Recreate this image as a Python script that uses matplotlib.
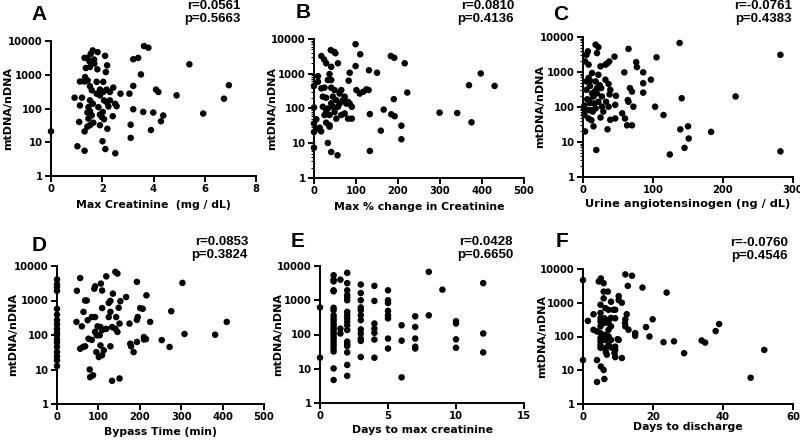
import matplotlib
matplotlib.use('Agg')
import matplotlib.pyplot as plt
from matplotlib.ticker import LogLocator, FixedLocator, NullFormatter

# ---- data ----
a_x = [0, 1.03, 1.31, 1.31, 1.1, 1.13, 0.92, 1.21, 1.13, 1.31, 1.33, 1.36, 1.42, 1.31, 1.55, 1.63, 1.82,
       1.5, 1.69, 1.52, 1.81, 1.43, 1.52, 1.59, 1.78, 1.91, 2.04, 2.17, 2.3, 2.43, 2.04, 1.78, 1.46, 1.52,
       1.42, 1.52, 1.59, 1.46, 1.52, 1.42, 1.65, 1.63, 1.85, 1.91, 1.98, 2.02, 2.07, 1.91, 2.07, 2.17, 2.24,
       2.3, 2.5, 2.56, 2.41, 2.2, 2.01, 2.12, 2.51, 2.14, 2.19, 2.11, 1.68, 1.91, 2.71, 3.06, 3.21, 3.4,
       3.63, 3.8, 3.51, 3.21, 3.21, 3.11, 3.11, 3.6, 3.99, 4.38, 4.29, 3.9, 4.1, 4.19, 4.9, 5.4, 5.94,
       6.75, 6.94]
a_y = [21, 7.6, 5.6, 21, 40, 123, 209, 209, 630, 630, 850, 1580, 3160, 3160, 4170, 5250, 4680,
       2510, 2140, 1700, 1450, 676, 457, 347, 617, 363, 617, 363, 309, 417, 309, 275, 110, 174,
       76, 83, 63, 50, 32, 29, 38, 138, 110, 66, 56, 79, 48, 32, 174, 155, 115,
       174, 138, 117, 59, 25, 10.7, 6.3, 4.7, 1200, 1900, 3630, 2820, 245, 275, 275, 2880, 3160,
       7080, 6310, 1020, 468, 95, 33, 13.5, 79, 76, 62, 42, 23, 363, 309, 245, 2040, 71,
       195, 490]

b_x = [0, 0, 0, 0, 0, 5.5, 5.5, 9.5, 9.5, 13.5, 17, 17.5, 24, 29, 25, 17.5, 21, 29, 21, 33, 25, 29, 37,
       29, 37, 33, 41, 56, 40, 48, 51, 41, 41, 33, 37, 41, 45, 49, 53, 45, 49, 53, 37, 57, 61, 65, 61,
       69, 73, 65, 73, 77, 81, 85, 90, 90, 81, 57, 41, 82.5, 85, 99, 99, 110, 101, 109, 117, 125, 130,
       131, 150, 133, 133, 166, 159, 183, 191, 184, 192, 190, 216, 222, 208, 208, 299, 341, 369, 375,
       397, 430]
b_y = [7.4, 107, 447, 37, 21, 49, 26, 851, 589, 28, 22, 3240, 2570, 2000, 398, 380, 219, 204, 112, 100,
       65, 39, 33, 89, 65, 10.2, 5.6, 4.5, 4790, 4270, 3890, 1580, 661, 661, 977, 398, 219, 339, 174,
       112, 79, 51, 30, 2000, 269, 339, 138, 174, 219, 65, 72, 138, 155, 138, 112, 51, 51, 112, 141,
       631, 1070, 7080, 1660, 3630, 339, 269, 302, 355, 339, 1260, 1070, 69, 6.0, 93, 23, 3240, 2880,
       68, 60, 186, 2000, 288, 32, 13, 76, 74, 468, 40, 1020, 447]

c_x = [2, 2, 3, 3, 5, 7, 8, 5, 6, 8, 8, 10, 10, 13, 13, 10, 15, 15, 18, 18, 14, 18, 22, 20, 22, 25, 26,
       27, 20, 22, 27, 29, 25, 19, 32, 35, 37.5, 32, 36.5, 39, 38, 33, 36.5, 39, 35, 45, 47, 46, 46, 59,
       65, 56, 60, 63, 64, 65, 67, 70, 72, 70, 76, 77, 86, 86, 86, 97, 103, 105, 115, 124, 138, 141,
       139, 145, 150, 151, 183, 218, 282, 282, 2, 9, 13, 16, 20, 8, 5, 12, 17, 24]
c_y = [110, 59, 20, 2000, 3090, 3890, 1620, 309, 166, 81, 47, 562, 398, 933, 245, 129, 200, 28, 537, 91,
       74, 6030, 5130, 3470, 832, 1450, 347, 200, 245, 141, 102, 74, 50, 5.9, 1620, 1780, 2000, 603,
       457, 309, 229, 141, 102, 43, 23, 2750, 209, 115, 47, 977, 4570, 66, 47, 30, 158, 141, 347, 275,
       102, 30, 1910, 1380, 977, 479, 257, 603, 102, 2630, 59, 4.4, 6760, 178, 23, 6.8, 28, 12.6, 19.5,
       200, 3090, 5.4, 89, 158, 81, 126, 347, 676, 537, 42, 282, 417]

d_x = [0] * 18 + [48, 47, 56, 63, 60, 64, 68, 72, 74, 68, 76, 79, 80, 87, 84, 92, 56, 84, 92, 90, 92, 98,
                  96, 105, 103, 105, 109, 95, 101, 106, 109, 109, 113, 109, 119, 119, 125, 125, 129, 129,
                  129, 133, 135, 141, 143, 146, 149, 153, 151, 141, 146, 133, 151, 167, 175, 177, 179,
                  185, 193, 193, 195, 193, 201, 207, 210, 210, 215, 216, 225, 253, 272, 276, 303, 308,
                  382, 410]
d_y = [4070, 2950, 2450, 1910, 575, 389, 269, 204, 151, 117, 98, 74, 60, 45, 32, 24, 18.6, 12.6,
       1910, 240, 40, 45, 178, 468, 1000, 1000, 269, 47, 78, 10, 6.0, 6.8, 72, 123, 4470, 331, 331,
       2190, 2570, 178, 98, 170, 98, 50, 138, 32, 23, 3090, 1950, 603, 36, 26, 5010, 151, 331, 851,
       977, 468, 47, 170, 1580, 151, 331, 123, 617, 955, 214, 6760, 6030, 4.7, 5.5, 1260, 214, 56,
       47, 32, 3470, 275, 331, 63, 603, 575, 87, 74, 76, 1410, 240, 71, 45, 490, 3240, 107, 102, 240]

e_x = ([0] * 2 + [1] * 23 + [1.5] * 3 + [2] * 18 + [3] * 12 + [4] * 7 + [5] * 8 + [6] * 3 + [7] * 5
       + [8] * 2 + [9] + [10] * 4 + [12] * 3)
e_y = [617, 21,
       5370, 3980, 3550, 1950, 1820, 603, 513, 363, 295, 245, 200, 166, 141, 120, 102, 85, 71, 59, 49,
       39, 32, 10.2, 4.7,
       3980, 148, 107,
       6310, 3160, 1950, 1410, 1200, 1000, 457, 363, 295, 234, 186, 135, 62, 52, 46, 30, 12.9, 6.2,
       2880, 1620, 1000, 617, 513, 363, 263, 141, 107, 76, 65, 22,
       2630, 955, 209, 148, 112, 71, 21,
       1950, 1000, 832, 490, 363, 295, 76, 39,
       186, 66, 5.6,
       339, 166, 76, 44, 39,
       6760, 363,
       2040,
       245, 209, 72, 41,
       3160, 107, 30]

f_x = [0, 0, 1.4, 3, 3, 4, 4, 4, 4.5, 5.1, 5, 5, 5, 5, 5, 5, 5, 5, 5, 5.1, 5.9, 5.9, 5.9, 6.1, 5.9, 6.1,
       6.4, 6.4, 6.4, 6.6, 6.8, 7.1, 7.3, 7.3, 7.3, 7.3, 7.3, 8, 8, 8, 8.3, 8.7, 9.2, 9.2, 9.2, 9.2, 9.2,
       10.2, 10.2, 9.9, 10.2, 11.1, 11.1, 12.1, 12.1, 12.1, 12.5, 12.8, 13, 14, 14.9, 14.9, 17, 18, 19,
       19.9, 23, 23.9, 26, 28.9, 33.9, 34.9, 37.9, 38.9, 47.9, 51.8, 7.3, 6, 5, 8, 6.5, 9, 12]
f_y = [4680, 20, 290, 457, 158, 141, 20, 4.5, 4270, 5250, 871, 347, 275, 200, 126, 89, 71, 56, 46, 12.9,
       3800, 2140, 1350, 347, 10.2, 5.5, 692, 112, 79, 46, 29, 2140, 617, 309, 158, 100, 56, 1070, 200,
       79, 46, 617, 617, 347, 50, 40, 24.5, 1580, 1200, 83, 79, 1000, 23, 6920, 324, 200, 457, 3160,
       158, 6310, 126, 105, 2820, 190, 100, 324, 68, 2000, 72, 32, 76, 66, 145, 234, 6.0, 40, 250, 250,
       500, 355, 35, 32, 250]

letters = ['A', 'B', 'C', 'D', 'E', 'F']
r_text = ['r=0.0561', 'r=0.0810', 'r=-0.0761', 'r=0.0853', 'r=0.0428', 'r=-0.0760']
p_text = ['p=0.5663', 'p=0.4136', 'p=0.4383', 'p=0.3824', 'p=0.6650', 'p=0.4546']
xlabels = ['Max Creatinine  (mg / dL)', 'Max % change in Creatinine', 'Urine angiotensinogen (ng / dL)',
           'Bypass Time (min)', 'Days to max creatinine', 'Days to discharge']
xlims = [(0, 8), (0, 500), (0, 300), (0, 500), (0, 15), (0, 60)]
xticks = [[0, 2, 4, 6, 8], [0, 100, 200, 300, 400, 500], [0, 100, 200, 300],
          [0, 100, 200, 300, 400, 500], [0, 5, 10, 15], [0, 20, 40, 60]]
yticks = [1, 10, 100, 1000, 10000]

xs = [a_x, b_x, c_x, d_x, e_x, f_x]
ys = [a_y, b_y, c_y, d_y, e_y, f_y]

W, H = 800.0, 441.0
# axes boxes in pixels: left, right, top, bottom
boxes = [(51, 256, 41, 176), (314, 524, 39, 178), (583, 793, 37, 177),
         (57, 264, 266, 404), (320, 524, 266, 403), (583, 793, 269, 404)]
letter_pos = [(31, 5), (296, 3), (553, 5), (32, 236), (291, 232), (556, 232)]
stat_pos = [(241, 0), (514, 0), (792, 0), (248, 236), (513, 236), (788, 237)]
ylab_x = [8, 272, 540, 13, 278, 542]
xlab_y = [205, 207, 204, 432, 430, 427]
xlab_size = [7.8, 7.8, 8.2, 7.8, 7.8, 7.8]

bold_label = dict(family='DejaVu Sans', weight='bold', size=7.2)

fig = plt.figure(figsize=(8, 4.41), dpi=100)
for i in range(6):
    l, r, t, b = boxes[i]
    ax = fig.add_axes([l / W, 1 - b / H, (r - l) / W, (b - t) / H])
    ax.scatter(xs[i], ys[i], s=22, c='black', edgecolors='none', clip_on=False, zorder=3)
    ax.set_yscale('log')
    ax.set_ylim(1, 10000)
    ax.set_xlim(*xlims[i])
    ax.set_xticks(xticks[i])
    ax.set_xticklabels([str(v) for v in xticks[i]], fontdict=bold_label)
    ax.yaxis.set_major_locator(FixedLocator(yticks))
    ax.set_yticklabels([str(v) for v in yticks], fontdict=bold_label)
    ax.yaxis.set_minor_locator(LogLocator(base=10, subs=range(2, 10)))
    ax.yaxis.set_minor_formatter(NullFormatter())
    for s in ['top', 'right']:
        ax.spines[s].set_visible(False)
    for s in ['left', 'bottom']:
        ax.spines[s].set_linewidth(1.4)
    ax.tick_params(which='major', direction='out', length=4, width=1.4, pad=2)
    ax.tick_params(which='minor', direction='out', length=2, width=0.8)

    fig.text(ylab_x[i] / W, 1 - (t + b) / 2 / H, 'mtDNA/nDNA', family='DejaVu Sans', weight='bold',
             size=8, rotation=90, ha='center', va='center')
    fig.text((l + r) / 2 / W, 1 - xlab_y[i] / H, xlabels[i], family='DejaVu Sans', weight='bold',
             size=xlab_size[i], ha='center', va='center')

    lx, ly = letter_pos[i]
    fig.text(lx / W, 1 - ly / H, letters[i], family='Liberation Sans', weight='bold', size=15,
             ha='left', va='top')
    sx, sy = stat_pos[i]
    fig.text(sx / W, 1 - sy / H, r_text[i] + '\n' + p_text[i], family='Liberation Sans',
             weight='bold', size=9.5, ha='right', va='top', linespacing=1.15)

fig.savefig('out.png', dpi=100)
